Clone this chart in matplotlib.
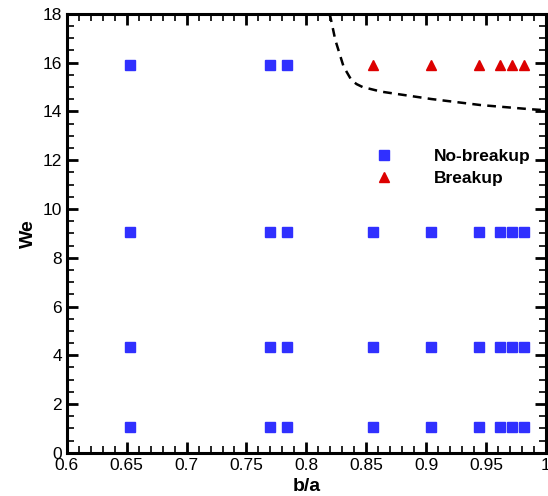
import numpy as np
import matplotlib.pyplot as plt
from matplotlib.ticker import MultipleLocator

plt.rcParams['font.family'] = ['Liberation Sans', 'DejaVu Sans']

# aspect ratios tested
ba = [0.653, 0.7696, 0.7837, 0.856, 0.904, 0.944, 0.962, 0.972, 0.982]
# Weber numbers
we_levels = [1.05, 4.35, 9.05, 15.9]

# cases at We=15.9 that broke up
ba_break = [0.856, 0.904, 0.944, 0.962, 0.972, 0.982]
we_break = [15.9] * len(ba_break)

# remaining no-breakup cases
ba_nb = []
we_nb = []
for we in we_levels:
    for b in ba:
        if we > 15 and b in ba_break:
            continue
        ba_nb.append(b)
        we_nb.append(we)

# critical boundary
curve_x = [0.8186, 0.820, 0.8242, 0.8311, 0.8377, 0.8420, 0.8470, 0.8627, 0.9042, 0.9458, 0.9873, 1.0]
curve_y = [18.0, 17.9, 16.93, 15.84, 15.28, 15.12, 15.00, 14.81, 14.51, 14.26, 14.09, 14.05]

fig = plt.figure(figsize=(5.48, 4.96), dpi=100)
ax = fig.add_axes([0.122, 0.087, 0.874, 0.885])

ax.plot(curve_x, curve_y, 'k--', linewidth=1.8, dashes=(3.5, 2.5))
ax.plot(ba_nb, we_nb, 's', color='#3030ff', markersize=7.2, linestyle='none',
        label='No-breakup')
ax.plot(ba_break, we_break, '^', color='#dd0000', markersize=7.5, linestyle='none',
        label='Breakup')

ax.set_xlim(0.6, 1.0)
ax.set_ylim(0, 18)
ax.xaxis.set_major_locator(MultipleLocator(0.05))
ax.xaxis.set_minor_locator(MultipleLocator(0.01))
ax.yaxis.set_major_locator(MultipleLocator(2))
ax.yaxis.set_minor_locator(MultipleLocator(0.5))
ax.set_xticks(np.arange(0.6, 1.001, 0.05))
ax.set_xticklabels(['0.6', '0.65', '0.7', '0.75', '0.8', '0.85', '0.9', '0.95', '1'])

ax.tick_params(which='both', direction='in', top=True, right=True, labelsize=12.5)
ax.tick_params(which='major', length=8, width=2)
ax.tick_params(which='minor', length=5, width=1.2)
for s in ax.spines.values():
    s.set_linewidth(2.2)

ax.set_xlabel('b/a', fontsize=14, fontweight='bold', labelpad=4)
ax.set_ylabel('We', fontsize=14, fontweight='bold', labelpad=4)

leg = ax.legend(loc='upper left', bbox_to_anchor=(0.629, 0.708), frameon=False,
                handletextpad=2.37, labelspacing=0.4, fontsize=12.5,
                handlelength=1.0, borderaxespad=0)
for t in leg.get_texts():
    t.set_fontweight('bold')

fig.savefig('out.png', dpi=100)
